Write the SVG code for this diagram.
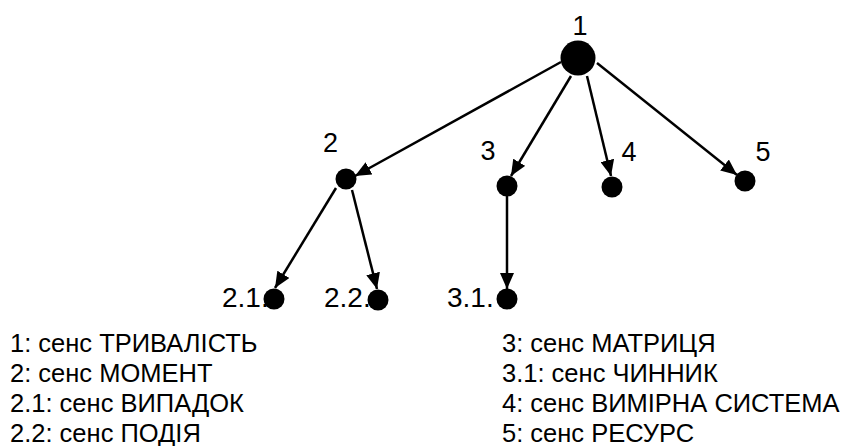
<svg xmlns="http://www.w3.org/2000/svg" width="847" height="446" viewBox="0 0 847 446">
<style>
.node{fill:#000}
.lbl{font-family:"Liberation Sans",Arial,sans-serif;font-size:27px;fill:#000}
.lbl2{font-family:"Liberation Sans",Arial,sans-serif;font-size:28px;fill:#000}
.leg{font-family:"Liberation Sans",Arial,sans-serif;font-size:25.5px;fill:#000}
.edge{stroke:#000;stroke-width:2.5;fill:none;marker-end:url(#arr)}
</style>
<defs>
<marker id="arr" markerUnits="userSpaceOnUse" markerWidth="18" markerHeight="14" refX="16" refY="7" orient="auto">
<path d="M0,0 L16,7 L0,14 Z" fill="#000"/>
</marker>
</defs>
<rect width="847" height="446" fill="#fff"/>
<g id="edges">
<line class="edge" x1="561" y1="62" x2="355" y2="176"/>
<line class="edge" x1="571" y1="76" x2="511" y2="176"/>
<line class="edge" x1="587" y1="76" x2="611" y2="176"/>
<line class="edge" x1="597" y1="63" x2="737" y2="175"/>
<line class="edge" x1="336" y1="188" x2="275" y2="288"/>
<line class="edge" x1="352" y1="190" x2="377" y2="289"/>
<line class="edge" x1="507" y1="196" x2="507" y2="289"/>
</g>
<g id="n1"><circle class="node" cx="578" cy="58" r="17.5"/><text class="lbl" x="572.5" y="35">1</text></g>
<g id="n2"><circle class="node" cx="346" cy="179" r="10.5"/><text class="lbl" x="323" y="152">2</text></g>
<g id="n3"><circle class="node" cx="507" cy="186" r="10.5"/><text class="lbl" x="480.5" y="159.5">3</text></g>
<g id="n4"><circle class="node" cx="612" cy="187" r="10.5"/><text class="lbl" x="621.5" y="160.5">4</text></g>
<g id="n5"><circle class="node" cx="745" cy="181" r="10.5"/><text class="lbl" x="755.5" y="160.5">5</text></g>
<g id="n21"><text class="lbl2" x="222" y="307">2.1.</text><circle class="node" cx="274" cy="299" r="10.5"/></g>
<g id="n22"><text class="lbl2" x="324" y="307">2.2.</text><circle class="node" cx="378" cy="300" r="10.5"/></g>
<g id="n31"><text class="lbl2" x="447" y="307">3.1.</text><circle class="node" cx="507" cy="299" r="10.5"/></g>
<g id="legend">
<text class="leg" x="10" y="351.5">1: сенс ТРИВАЛІСТЬ</text>
<text class="leg" x="10" y="381.5">2: сенс МОМЕНТ</text>
<text class="leg" x="10" y="411.5">2.1: сенс ВИПАДОК</text>
<text class="leg" x="10" y="441.5">2.2: сенс ПОДІЯ</text>
<text class="leg" x="502" y="351.5">3: сенс МАТРИЦЯ</text>
<text class="leg" x="502" y="381.5">3.1: сенс ЧИННИК</text>
<text class="leg" x="502" y="411.5">4: сенс ВИМІРНА СИСТЕМА</text>
<text class="leg" x="502" y="441.5">5: сенс РЕСУРС</text>
</g>
</svg>
